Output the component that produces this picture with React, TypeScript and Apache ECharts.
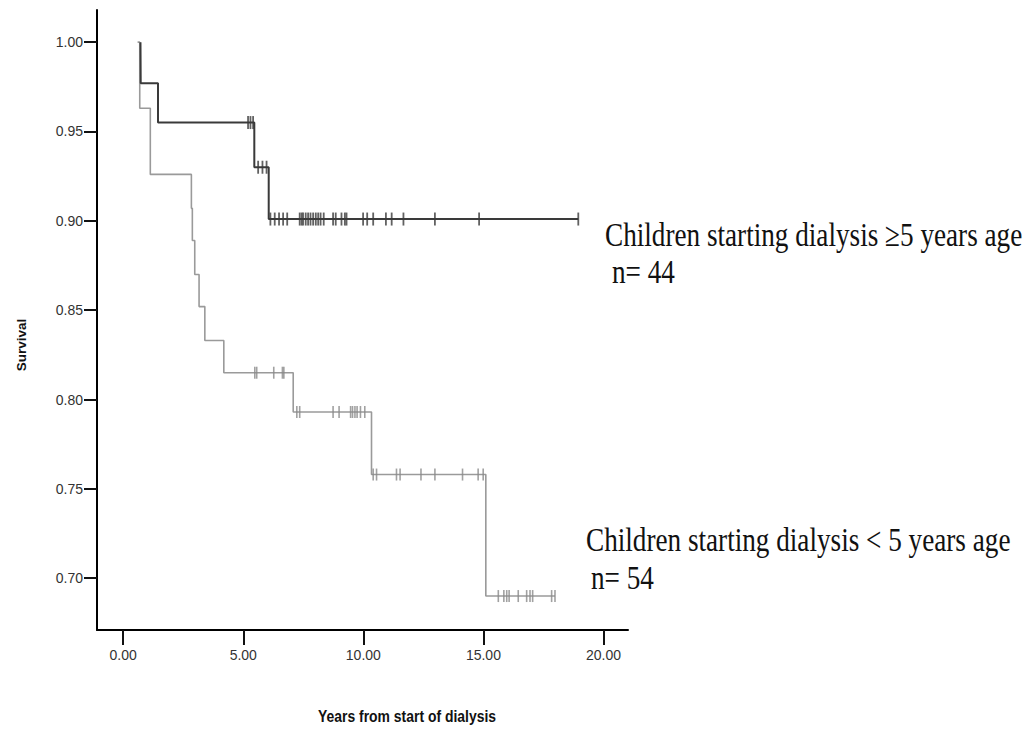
import React, { useEffect, useRef } from "react";
import * as echarts from "echarts";

// Kaplan-Meier steps: time of each step (years) and survival after it
const olderTimes = [0.72, 0.73, 1.45, 5.46, 6.06, 18.95];
const olderSurv = [1.0, 0.977, 0.955, 0.93, 0.901, 0.901];
const olderCensored = [
  5.2, 5.3, 5.41, 5.62, 5.8, 5.97, 6.13, 6.31, 6.49, 6.66, 6.83, 7.35, 7.43, 7.49, 7.6, 7.7, 7.8,
  7.91, 8.02, 8.12, 8.22, 8.35, 8.74, 8.85, 9.09, 9.23, 9.3, 9.99, 10.16, 10.41, 10.94, 11.18,
  11.67, 12.98, 14.82, 18.95,
];

const youngerTimes = [0.6, 0.69, 1.13, 2.84, 2.88, 2.98, 3.16, 3.4, 4.19, 7.08, 10.34, 15.1, 17.98];
const youngerSurv = [1.0, 0.963, 0.926, 0.907, 0.889, 0.87, 0.852, 0.833, 0.815, 0.793, 0.758, 0.69, 0.69];
const youngerCensored = [
  5.48, 5.56, 6.27, 6.63, 6.69, 7.23, 7.35, 8.74, 8.99, 9.47, 9.55, 9.65, 9.74, 9.88, 10.06, 10.41,
  10.55, 11.38, 11.53, 12.4, 12.98, 14.13, 14.78, 14.99, 15.62, 15.85, 15.97, 16.07, 16.45, 16.8,
  16.94, 17.05, 17.84, 17.98,
];

const xTicks = [0, 5, 10, 15, 20];
const yTicks = [0.7, 0.75, 0.8, 0.85, 0.9, 0.95, 1.0];

const olderLabel = ["Children starting dialysis \u22655 years age", "n= 44"];
const youngerLabel = ["Children starting dialysis < 5 years age", "n= 54"];

function levelAt(times: number[], surv: number[], t: number): number {
  let v = surv[0];
  for (let i = 0; i < times.length; i++) {
    if (times[i] <= t + 1e-9) v = surv[i];
  }
  return v;
}

const DARK = "#3a3a3a";
const GREY = "#9a9a9a";
const SANS = "'Liberation Sans', Arial, sans-serif";

export default function App() {
  const ref = useRef<HTMLDivElement>(null);

  useEffect(() => {
    document.body.style.margin = "0";
    if (!ref.current) return;
    const chart = echarts.init(ref.current, undefined, { renderer: "svg" });

    const serifText = (x: number, y: number, text: string) => ({
      type: "text",
      x,
      y,
      scaleX: 0.8,
      style: {
        text,
        fontFamily: "'Liberation Serif', 'Times New Roman', serif",
        fontSize: 34,
        fill: "#111",
        align: "left",
        verticalAlign: "middle",
      },
    });

    chart.setOption({
      animation: false,
      backgroundColor: "#ffffff",
      grid: { left: 97, top: 10, right: 404, bottom: 101, containLabel: false },
      xAxis: {
        type: "value",
        min: -1.09,
        max: 21.02,
        axisLine: { show: true, onZero: false, lineStyle: { color: "#000", width: 2 } },
        axisTick: { show: true, customValues: xTicks, length: 15, lineStyle: { color: "#111", width: 2 } },
        axisLabel: {
          customValues: xTicks,
          formatter: (v: number) => v.toFixed(2),
          fontFamily: SANS,
          fontSize: 14,
          color: "#333",
          margin: 18,
        },
        splitLine: { show: false },
      },
      yAxis: {
        type: "value",
        min: 0.671,
        max: 1.018,
        axisLine: { show: true, onZero: false, lineStyle: { color: "#000", width: 2 } },
        axisTick: { show: true, customValues: yTicks, length: 13, lineStyle: { color: "#111", width: 2 } },
        axisLabel: {
          customValues: yTicks,
          formatter: (v: number) => v.toFixed(2),
          fontFamily: SANS,
          fontSize: 14,
          color: "#333",
          margin: 14,
        },
        splitLine: { show: false },
      },
      series: [
        {
          type: "line",
          step: "end",
          showSymbol: false,
          data: youngerTimes.map((t, i) => [t, youngerSurv[i]]),
          lineStyle: { color: GREY, width: 1.6 },
          z: 2,
        },
        {
          type: "scatter",
          symbol: "rect",
          symbolSize: [1.6, 12],
          data: youngerCensored.map((t) => [t, levelAt(youngerTimes, youngerSurv, t)]),
          itemStyle: { color: "#8a8a8a" },
          z: 2,
        },
        {
          type: "line",
          step: "end",
          showSymbol: false,
          data: olderTimes.map((t, i) => [t, olderSurv[i]]),
          lineStyle: { color: DARK, width: 2 },
          z: 3,
        },
        {
          type: "scatter",
          symbol: "rect",
          symbolSize: [1.8, 13],
          data: olderCensored.map((t) => [t, levelAt(olderTimes, olderSurv, t)]),
          itemStyle: { color: DARK },
          z: 3,
        },
      ],
      graphic: [
        serifText(605, 235, olderLabel[0]),
        serifText(612, 272, olderLabel[1]),
        serifText(586, 540, youngerLabel[0]),
        serifText(591, 578, youngerLabel[1]),
        {
          type: "text",
          x: 21,
          y: 345,
          rotation: Math.PI / 2,
          style: {
            text: "Survival",
            fontFamily: SANS,
            fontWeight: "bold",
            fontSize: 13.5,
            fill: "#111",
            align: "center",
            verticalAlign: "middle",
          },
        },
        {
          type: "text",
          x: 318,
          y: 716,
          scaleX: 0.82,
          style: {
            text: "Years from start of dialysis",
            fontFamily: SANS,
            fontWeight: "bold",
            fontSize: 17,
            fill: "#111",
            align: "left",
            verticalAlign: "middle",
          },
        },
      ],
    });

    return () => chart.dispose();
  }, []);

  return <div ref={ref} style={{ width: 1032, height: 731 }} />;
}
